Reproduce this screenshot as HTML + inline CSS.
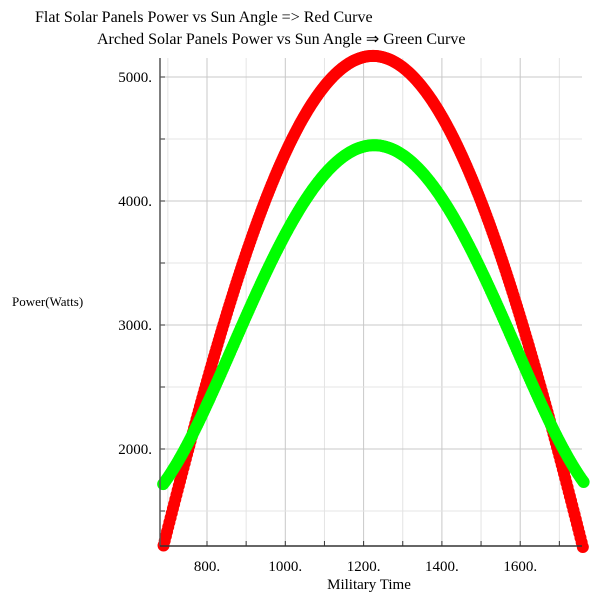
<!DOCTYPE html>
<html><head><meta charset="utf-8"><style>body{margin:0;background:#fff}svg{display:block}</style></head>
<body>
<svg id="s" width="600" height="600" xmlns="http://www.w3.org/2000/svg" font-family="Liberation Serif, serif">
<text x="35" y="22" font-size="16">Flat Solar Panels Power vs Sun Angle =&gt; Red Curve</text>
<text x="97" y="44" font-size="16">Arched Solar Panels Power vs Sun Angle ⇒ Green Curve</text>
<text x="12" y="306" font-size="13">Power(Watts)</text>
<text x="369" y="589" font-size="15" text-anchor="middle">Military Time</text>
<g id="grid"></g>
<g id="pts"></g>
<line x1="160" y1="58" x2="160" y2="546" stroke="#555" stroke-width="1.5"/>
<line x1="160" y1="546" x2="582" y2="546" stroke="#333" stroke-width="1.5"/>
<g font-size="15" text-anchor="middle" id="xl"></g>
<g font-size="15" text-anchor="end" id="yl"></g>
</svg>
<script>
const NS="http://www.w3.org/2000/svg";
function X(t){return 207+(t-800)*0.3915}
function Y(p){return 201-(p-4000)*0.124}
function el(tag,a,p){const e=document.createElementNS(NS,tag);for(const k in a)e.setAttribute(k,a[k]);p.appendChild(e);return e}
const g=document.getElementById('grid');
for(let t=700;t<=1700;t+=100){el('line',{x1:X(t),y1:58,x2:X(t),y2:546,stroke:t%200?'#e4e4e4':'#c8c8c8'},g);el('line',{x1:X(t),y1:546,x2:X(t),y2:541,stroke:'#333'},g)}
for(let p=1500;p<=5000;p+=500){el('line',{x1:160,y1:Y(p),x2:582,y2:Y(p),stroke:p%1000?'#e4e4e4':'#c8c8c8'},g);el('line',{x1:160,y1:Y(p),x2:165,y2:Y(p),stroke:'#333'},g)}
const xl=document.getElementById('xl');
[800,1000,1200,1400,1600].forEach(t=>{el('text',{x:X(t),y:571},xl).textContent=t+'.'});
const yl=document.getElementById('yl');
[2000,3000,4000,5000].forEach(p=>{el('text',{x:152,y:Y(p)+5},yl).textContent=p+'.'});
const pts=document.getElementById('pts');
function grn(d){const d2=d*d;return 4450-d2*(0.01492-1.897e-8*d2);}
for(let t=680;t<=1762;t+=3){
  const p=5170*Math.cos((t-1224)*0.00249);
  if(p<1190)continue;
  el('circle',{cx:X(t),cy:Y(p),r:6,fill:'#f00'},pts);
}
for(let t=688;t<=1762;t+=3){
  el('circle',{cx:X(t),cy:Y(grn(Math.abs(t-1227))),r:6,fill:'#0f0'},pts);
}
</script>
</body></html>
